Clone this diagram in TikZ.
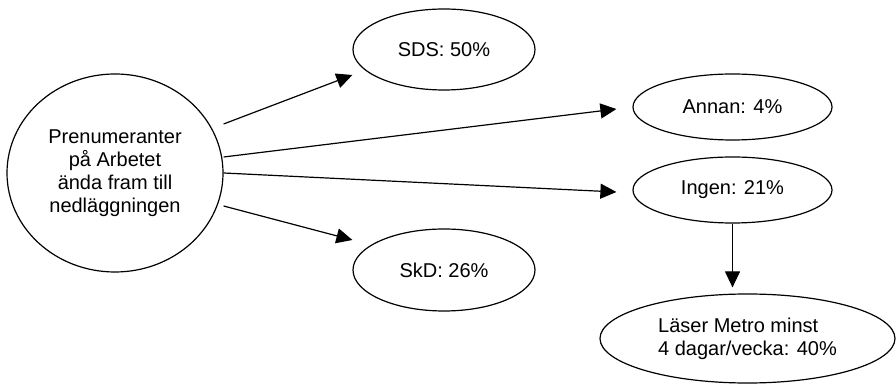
\documentclass[tikz,border=0pt]{standalone}
\usepackage{fontspec}
\setmainfont{Liberation Sans}
\usetikzlibrary{shapes.geometric,arrows.meta}

\tikzset{
    oval/.style={draw, ellipse, line width=1.2pt, inner sep=0pt,
        font=\fontsize{20}{23}\selectfont},
    arr/.style={line width=1.2pt, -{Triangle[length=16pt,width=15pt]}}
}

\begin{document}
\begin{tikzpicture}[x=1pt,y=1pt]
\useasboundingbox (0,0) rectangle (896,385);

% source circle on the left
\node[oval, minimum width=216, minimum height=198, align=center] (prn) at (115,212)
    {Prenumeranter\\på Arbetet\\ända fram till\\nedläggningen};

% the papers they read afterwards
\node[oval, minimum width=182, minimum height=81] (sds) at (444,335.5) {SDS: 50\%};
\node[oval, minimum width=199, minimum height=66] (annan) at (732.5,278) {Annan: 4\%};
\node[oval, minimum width=199, minimum height=66] (ingen) at (732.5,195) {Ingen: 21\%};
\node[oval, minimum width=182, minimum height=82] (skd) at (444,115) {SkD: 26\%};
\node[oval, minimum width=295, minimum height=89, align=left] (metro) at (747.5,46.5)
    {Läser Metro minst\\4 dagar/vecka: 40\%};

% arrows out of the circle
\draw[arr] ([yshift=49]prn.east) -- ([yshift=-25.5]sds.west);
\draw[arr] ([yshift=16]prn.east) -- ([xshift=-16,yshift=-2]annan.west);
\draw[arr] (prn.east) -- ([xshift=-16,yshift=-2]ingen.west);
\draw[arr] ([yshift=-33]prn.east) -- ([yshift=30]skd.west);

% Ingen -> Metro
\draw[arr, shorten >=6pt] (ingen.south) -- (ingen.south |- metro.north);
\end{tikzpicture}
\end{document}
